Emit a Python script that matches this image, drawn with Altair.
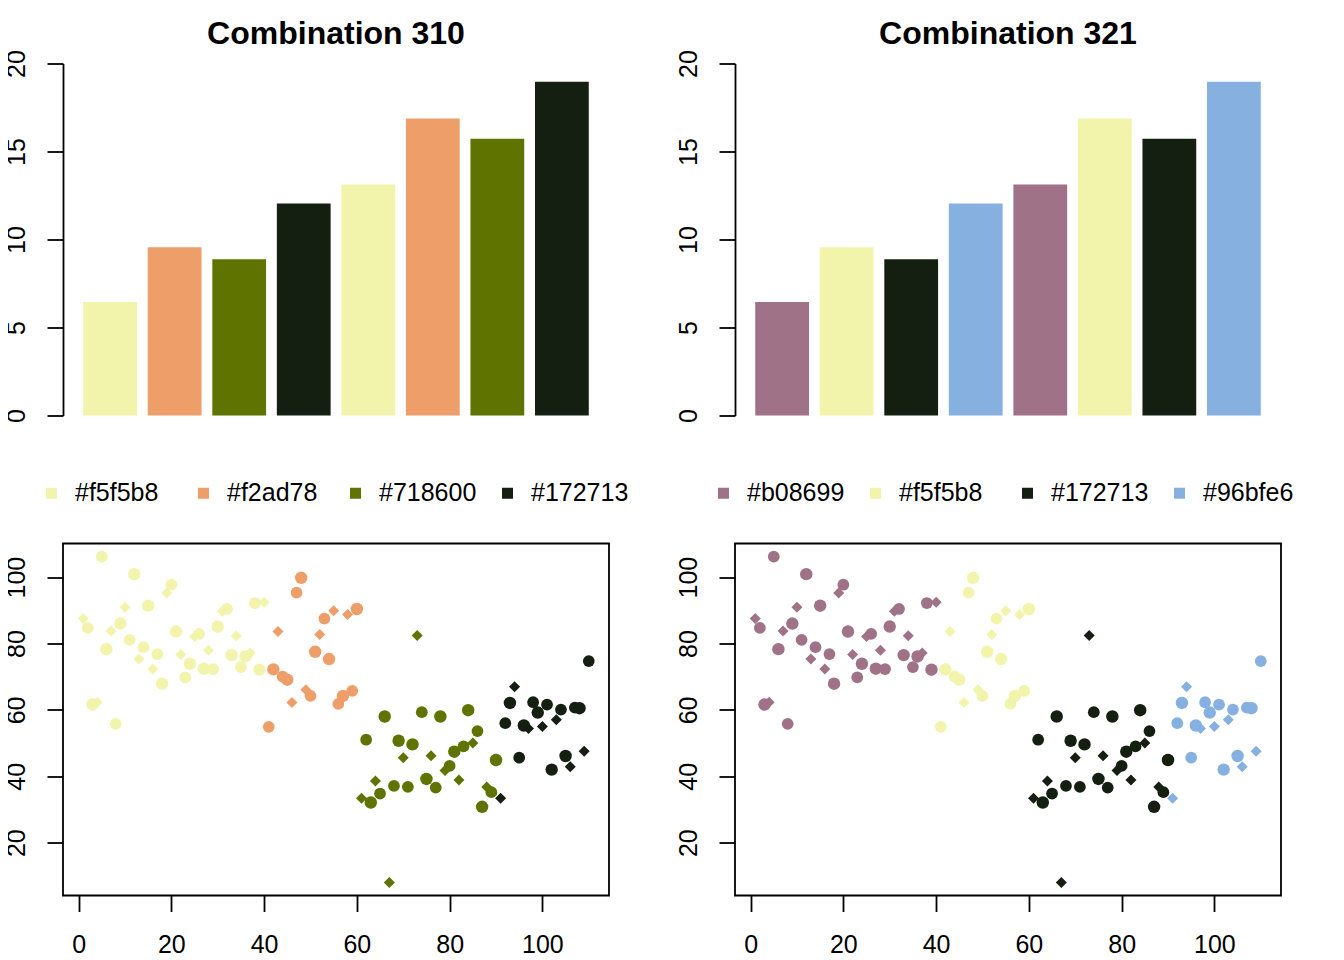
import altair as alt
import pandas as pd

# ---------------- data ----------------
bar_index = [1, 2, 3, 4, 5, 6, 7, 8]
bar_values = [6.45, 9.56, 8.88, 12.05, 13.13, 16.87, 15.73, 18.96]

pal_310 = ["#f5f5b8", "#f2ad78", "#718600", "#172713"]
pal_321 = ["#b08699", "#f5f5b8", "#172713", "#96bfe6"]
# shades as they appear in the reference picture
shade = {"#f5f5b8": "#f2f4ac", "#f2ad78": "#ee9e69", "#718600": "#5f7400",
         "#172713": "#141f12", "#b08699": "#a07287", "#96bfe6": "#86b0e0"}

group_sizes = [40, 20, 30, 20]
y_g1 = [87.5, 84.7, 61.6, 62.3, 106.2, 78.3, 83.8, 55.8, 86.0, 90.9,
        81.1, 100.9, 75.3, 78.9, 91.4, 72.3, 76.8, 67.9, 95.2, 97.7,
        83.6, 76.7, 69.8, 73.9, 82.1, 82.9, 72.4, 78.0, 72.3, 85.1,
        89.7, 90.4, 76.5, 82.3, 72.9, 76.1, 77.1, 92.2, 72.1, 92.4]
y_g2 = [54.9, 72.2, 83.6, 70.0, 69.1, 62.2, 95.3, 99.8, 66.1, 64.2,
        77.5, 82.7, 87.5, 75.3, 89.9, 61.8, 64.2, 88.7, 65.7, 90.4]
y_g3 = [33.4, 51.0, 32.1, 38.6, 34.8, 58.0, 8.0, 37.1, 50.7, 45.6,
        36.8, 49.6, 82.4, 59.3, 39.2, 46.2, 36.6, 58.0, 41.7, 43.1,
        47.4, 38.9, 49.0, 59.9, 50.0, 53.6, 30.8, 36.8, 35.2, 44.9]
y_g4 = [33.4, 56.0, 62.1, 67.0, 45.6, 55.3, 54.4, 62.3, 59.2, 55.0,
        61.6, 42.0, 57.0, 60.1, 46.1, 42.9, 60.7, 60.5, 47.5, 74.7]
shape_cycle = ["diamond", "big", "small"]

FONT = "Liberation Sans"
FS = 25

# ---------------- tables ----------------
y_all = y_g1 + y_g2 + y_g3 + y_g4
grp = []
for g, n in enumerate(group_sizes):
    grp += [g] * n
scatter_df = pd.DataFrame({
    "x": list(range(1, len(y_all) + 1)),
    "y": y_all,
    "g": grp,
    "pch": [shape_cycle[i % 3] for i in range(len(y_all))],
})

xmin, xmax = scatter_df.x.min(), scatter_df.x.max()
ymin, ymax = scatter_df.y.min(), scatter_df.y.max()
xd = [xmin - 0.04 * (xmax - xmin), xmax + 0.04 * (xmax - xmin)]
yd = [ymin - 0.04 * (ymax - ymin), ymax + 0.04 * (ymax - ymin)]

W, H = 546, 352


def bar_chart(pal, title):
    df = pd.DataFrame({"i": bar_index, "v": bar_values,
                       "col": [pal[(i - 1) % 4] for i in bar_index]})
    return alt.Chart(df, title=alt.Title(title)).mark_bar().encode(
        x=alt.X("i:O", axis=None,
                scale=alt.Scale(paddingInner=1 / 6, paddingOuter=0.3133)),
        y=alt.Y("v:Q", scale=alt.Scale(domain=[0, 20], nice=False),
                axis=alt.Axis(values=[0, 5, 10, 15, 20], title=None,
                              domain=True)),
        color=alt.Color("col:N",
                        scale=alt.Scale(domain=pal, range=[shade[c] for c in pal]),
                        legend=alt.Legend(orient="none", legendX=-24, legendY=417,
                                          direction="horizontal", columns=4,
                                          gridAlign="all", title=None,
                                          symbolType="square", symbolSize=121,
                                          symbolStrokeWidth=0, symbolOpacity=1,
                                          labelFont=FONT, labelFontSize=FS,
                                          labelColor="black", labelOffset=11,
                                          columnPadding=18, padding=0)),
    ).properties(width=W, height=H, view=alt.ViewBackground(strokeWidth=0))


def scatter_chart(pal):
    df = scatter_df.copy()
    df["col"] = [pal[g] for g in df.g]
    return alt.Chart(df).mark_point(filled=True, opacity=1, strokeWidth=0).encode(
        x=alt.X("x:Q", scale=alt.Scale(domain=xd, nice=False, zero=False),
                axis=alt.Axis(values=[0, 20, 40, 60, 80, 100], title=None,
                              domain=False, labelAngle=0, labelBaseline="top",
                              labelPadding=21)),
        y=alt.Y("y:Q", scale=alt.Scale(domain=yd, nice=False, zero=False),
                axis=alt.Axis(values=[20, 40, 60, 80, 100], title=None,
                              domain=False)),
        color=alt.Color("col:N",
                        scale=alt.Scale(domain=pal, range=[shade[c] for c in pal]),
                        legend=None),
        shape=alt.Shape("pch:N",
                        scale=alt.Scale(domain=shape_cycle,
                                        range=["diamond", "circle", "circle"]),
                        legend=None),
        size=alt.Size("pch:N",
                      scale=alt.Scale(domain=shape_cycle, range=[121, 155, 68]),
                      legend=None),
    ).properties(width=W, height=H,
                 view=alt.ViewBackground(stroke="black", strokeWidth=1.8))


chart = alt.concat(
    bar_chart(pal_310, "Combination 310"),
    bar_chart(pal_321, "Combination 321"),
    scatter_chart(pal_310),
    scatter_chart(pal_321),
    columns=2,
    spacing={"row": 128, "column": 126},
    bounds="flush",
).resolve_scale(
    color="independent", x="independent", y="independent"
).properties(
    padding={"left": -5, "top": 9.5, "right": 0, "bottom": 0}
).configure_view(
    stroke=None
).configure_axis(
    labelFont=FONT, labelFontSize=FS, labelColor="black",
    tickColor="black", tickWidth=1.8, tickSize=16,
    domainColor="black", domainWidth=1.8, grid=False,
).configure_axisY(
    labelAngle=270, labelAlign="center", labelBaseline="alphabetic",
    labelPadding=23,
).configure_title(
    font=FONT, fontSize=32, fontWeight="bold", color="black",
    anchor="middle", frame="group", offset=-1, baseline="alphabetic",
)

chart.save("out.html", embed_options={"renderer": "svg", "actions": False})
